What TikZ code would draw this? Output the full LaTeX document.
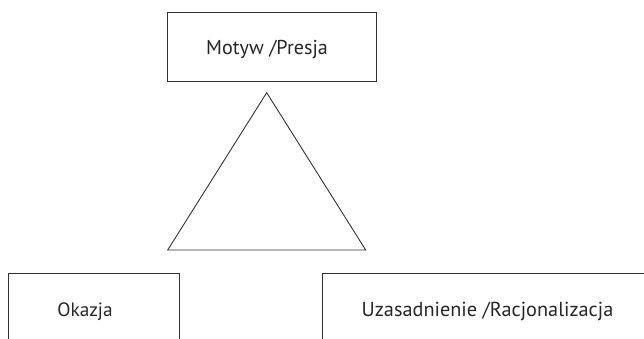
\documentclass[tikz,border=0pt]{standalone}
\usepackage{fontspec}
\usepackage{graphicx}
\setmainfont{PT Sans}
\tikzset{
  box/.style={draw=black!80, line width=0.9pt, inner sep=0pt},
  lbl/.style={font=\fontsize{18}{22}\selectfont, text=black!85, inner sep=0pt, anchor=base},
  tri/.style={draw=black!80, line width=0.9pt, line join=miter}
}
\begin{document}
\begin{tikzpicture}[x=1pt,y=1pt]
\useasboundingbox (0,0) rectangle (644,339);
\clip (0,0) rectangle (644,339);
% top box
\node[box, minimum width=209pt, minimum height=69.4pt] (top) at (272.2,292) {};
\node[lbl] (toplbl) at (267,284) {\resizebox{121.7pt}{!}{Motyw /Presja}};
% triangle
\coordinate (apex) at (266.7,246.3);
\coordinate (bl) at (167.7,89);
\coordinate (br) at (365.7,89);
\draw[tri] (apex) -- (bl) -- (br) -- cycle;
% bottom left box (cropped)
\node[box, minimum width=171pt, minimum height=100pt] (okb) at (93.5,15.7) {};
\node[lbl] (oklbl) at (85,22.3) {\resizebox{55.4pt}{!}{Okazja}};
% bottom right box (cropped)
\node[box, minimum width=340pt, minimum height=100pt] (uzb) at (492.7,15.7) {};
\node[lbl] (uzlbl) at (487.5,22.3) {\resizebox{251.6pt}{!}{Uzasadnienie /Racjonalizacja}};
\end{tikzpicture}
\end{document}
